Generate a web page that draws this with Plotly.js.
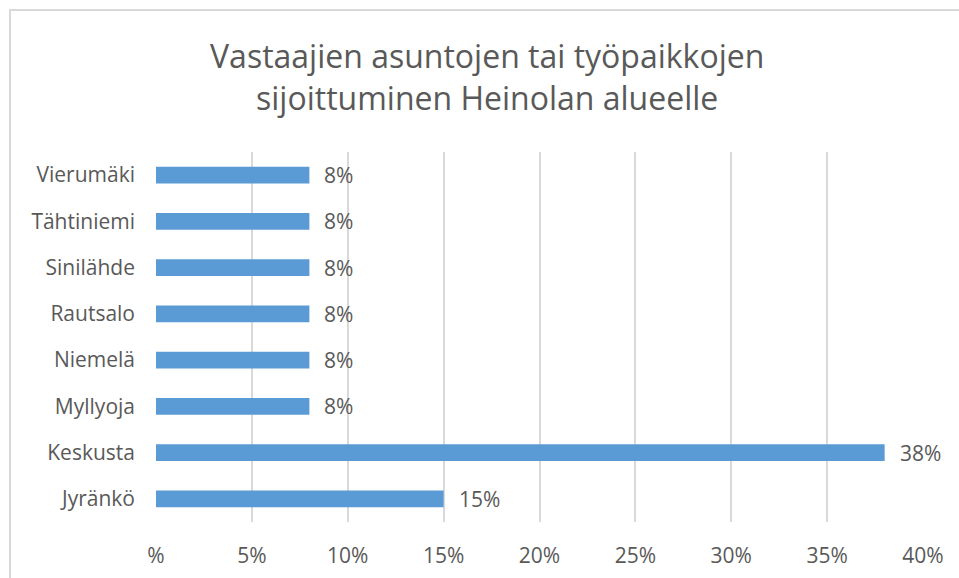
<!DOCTYPE html>
<html>
<head>
<meta charset="utf-8">
<script src="https://cdn.plot.ly/plotly-3.0.1.min.js"></script>
<style>
  html, body { margin: 0; padding: 0; background: #fff; }
  #wrap { position: relative; width: 959px; height: 578px; overflow: hidden; }
  #frame { position: absolute; left: 9px; top: 9px; width: 1000px; height: 1000px;
           border-left: 2px solid #D9D9D9; border-top: 2px solid #D9D9D9; box-sizing: border-box; pointer-events: none; }
  #chart { position: absolute; left: 0; top: 0; width: 959px; height: 578px; }
</style>
</head>
<body>
<div id="wrap">
  <div id="chart"></div>
  <div id="frame"></div>
</div>
<script>
const categories = ["Jyränkö", "Keskusta", "Myllyoja", "Niemelä", "Rautsalo", "Sinilähde", "Tähtiniemi", "Vierumäki"];
const values = [15, 38, 8, 8, 8, 8, 8, 8];
const valueLabels = ["15%", "38%", "8%", "8%", "8%", "8%", "8%", "8%"];
const tickVals = [0, 5, 10, 15, 20, 25, 30, 35, 40];
const tickText = ["%", "5%", "10%", "15%", "20%", "25%", "30%", "35%", "40%"];
const titleText = "Vastaajien asuntojen tai työpaikkojen<br>sijoittuminen Heinolan alueelle";

const fontFamily = "'Open Sans', 'Noto Sans', sans-serif";
const textColor = "#595959";

const trace = {
  type: "bar",
  orientation: "h",
  y: categories,
  x: values,
  marker: { color: "#5B9BD5" },
  hoverinfo: "skip"
};

const annotations = categories.map((c, i) => ({
  x: values[i], y: c, xref: "x", yref: "y",
  text: valueLabels[i], showarrow: false,
  xanchor: "left", yanchor: "middle", xshift: 13,
  font: { family: fontFamily, size: 21, color: textColor }
}));

const layout = {
  width: 959, height: 578,
  margin: { l: 156, r: 36, t: 152, b: 56 },
  paper_bgcolor: "#ffffff", plot_bgcolor: "#ffffff",
  showlegend: false,
  bargap: 0.64,
  title: {
    text: titleText,
    font: { family: fontFamily, size: 32, color: textColor },
    x: 0.508, xanchor: "center",
    y: 0.882, yanchor: "middle", yref: "container"
  },
  xaxis: {
    range: [0, 40],
    tickvals: tickVals, ticktext: tickText,
    showgrid: true, gridcolor: "#D9D9D9", gridwidth: 2,
    zeroline: false, showline: false, ticks: "",
    ticklabelstandoff: 19,
    tickfont: { family: fontFamily, size: 21, color: textColor },
    fixedrange: true
  },
  yaxis: {
    type: "category",
    showgrid: false, zeroline: false, showline: false, ticks: "",
    ticklabelstandoff: 20,
    tickfont: { family: fontFamily, size: 21, color: textColor },
    fixedrange: true
  },
  annotations: annotations
};

Plotly.newPlot("chart", [trace], layout, { displayModeBar: false, staticPlot: true });
</script>
</body>
</html>
